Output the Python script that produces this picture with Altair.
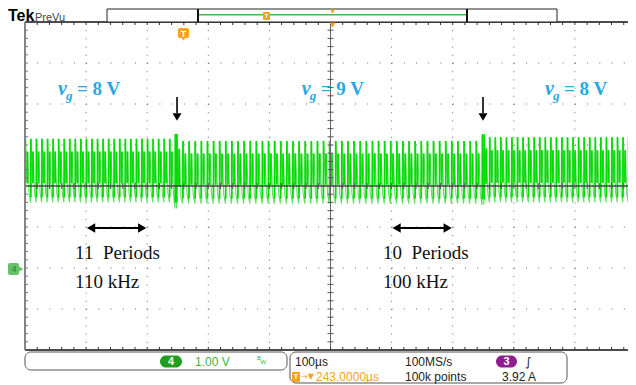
import altair as alt
import numpy as np
import pandas as pd

# ---------------- waveform (time in µs, amplitude in divisions from centre) ----------------
seg_start_us = [0.0, 248.0, 751.0]
seg_end_us = [248.0, 751.0, 1000.0]
seg_freq_khz = [110.0, 100.0, 110.0]
seg_peak_div = [1.15, 1.10, 1.19]
seg_trough_div = [-0.40, -0.43, -0.40]
period_phase = [0.00, 0.10, 0.35, 0.50, 0.72]
period_level = [0.00, 1.00, 0.30, 0.80, 0.15]
bright_phase = [0.05, 0.43]
bright_low_level = [0.08, 0.30]
bright_high_level = [1.00, 0.80]
spike_t_us = [248.0, 751.0]
spike_peak_div = [1.27, 1.26]
spike_trough_div = [-0.55, -0.46]

# ---------------- annotations ----------------
vg_t_us = [54.0, 453.0, 851.0]
vg_values = ["8", "9", "8"]
vg_div = 2.22
marker_t_us = [248.8, 749.6]
span_t0_us = [100.0, 600.0]
span_t1_us = [200.0, 700.0]
span_text_t_us = [82.0, 586.0]
span_periods = ["11", "10"]
span_freqs = ["110 kHz", "100 kHz"]

# ---------------- status texts ----------------
ch4_scale = "1.00 V"
timebase = "100µs"
sample_rate = "100MS/s"
record_len = "100k points"
trig_pos = "243.0000µs"
trig_level = "3.92 A"

# ---------------- geometry helpers ----------------
PX_PER_DIV_X = 61.1      # 100 µs per division
W = 603                  # visible part of the graticule (page is 636 px wide)
H = 328


def tx(px):
    return px * 100.0 / PX_PER_DIV_X


def dy(py):
    return 4.0 - py * 8.0 / H


xs = alt.Scale(domain=[0, tx(W)], nice=False, zero=False)
ys = alt.Scale(domain=[-4, 4], nice=False, zero=False)


def enc(ch, x2=False, y2=False, **extra):
    e = dict(x=alt.X("x", type="quantitative", scale=xs, axis=None),
             y=alt.Y("y", type="quantitative", scale=ys, axis=None))
    if x2:
        e["x2"] = alt.X2("x2")
    if y2:
        e["y2"] = alt.Y2("y2")
    e.update(extra)
    return ch.encode(**e)


def rules(rows, **kw):
    df = pd.DataFrame(rows, columns=["x", "x2", "y", "y2"])
    return enc(alt.Chart(df).mark_rule(**kw), x2=True, y2=True)


def rects(rows, **kw):
    df = pd.DataFrame(rows, columns=["x", "x2", "y", "y2"])
    return enc(alt.Chart(df).mark_rect(**kw), x2=True, y2=True)


def texts(rows, **kw):
    df = pd.DataFrame(rows, columns=["x", "y", "text"])
    return enc(alt.Chart(df).mark_text(**kw), text=alt.Text("text:N"))


def points(rows, **kw):
    df = pd.DataFrame(rows, columns=["x", "y"])
    return enc(alt.Chart(df).mark_point(filled=True, opacity=1, strokeWidth=0, **kw))


def prect(x0, x1, y0, y1):
    return (tx(x0), tx(x1), dy(y0), dy(y1))


# ---------------- waveform table ----------------
wave_rows = []
bright_rows = []
for s, e, f, pk, tr in zip(seg_start_us, seg_end_us, seg_freq_khz, seg_peak_div, seg_trough_div):
    period = 1000.0 / f
    t0 = s
    while t0 < e - 1e-6:
        p, q = pk, tr
        for st, sp, sq in zip(spike_t_us, spike_peak_div, spike_trough_div):
            if t0 <= st < t0 + period:
                p, q = sp, sq
        for ph, lv in zip(period_phase, period_level):
            t = t0 + ph * period
            if t <= e:
                wave_rows.append((t, q + lv * (p - q)))
        for bp, lo, hi in zip(bright_phase, bright_low_level, bright_high_level):
            tb = t0 + bp * period
            bright_rows.append((tb, tb, q + lo * (p - q), q + hi * (p - q)))
        t0 += period
wave_rows.append((1000.0, seg_trough_div[-1]))
wave_df = pd.DataFrame(wave_rows, columns=["x", "y"])

layers = []

# grid (dotted)
layers.append(rules([(t, t, 4, -4) for t in range(100, 1000, 100) if t != 500],
                    color="#6a6a6a", strokeWidth=1, strokeDash=[1, 7.2]))
layers.append(rules([(0, 1000, d, d) for d in range(-3, 4) if d != 0],
                    color="#6a6a6a", strokeWidth=1, strokeDash=[1, 11.22]))

# waveform
layers.append(enc(alt.Chart(wave_df).mark_line(color="#5fe05f", strokeWidth=1.1)))
layers.append(rules(bright_rows, color="#00dc00", strokeWidth=1.7))

# centre crosshair with ticks
layers.append(rules([(500, 500, 4, -4)], color="#666666", strokeWidth=1))
layers.append(rules([(0, 1000, 0, 0)], color="#444444", strokeWidth=1.5))
layers.append(rules([(500 - tx(3), 500 + tx(3), d, d) for d in np.arange(-3.8, 3.81, 0.2)],
                    color="#555555", strokeWidth=1))
layers.append(rules([(t, t, dy(H / 2 - 3), dy(H / 2 + 3)) for t in range(20, 1000, 20)],
                    color="#555555", strokeWidth=1))

# borders with ticks
layers.append(rules([(0, 1000, 4, 4), (0, 1000, -4, -4)], color="#111111", strokeWidth=1.5))
layers.append(rules([(0, 0, 4, -4)], color="#858585", strokeWidth=2))
layers.append(rules([(t, t, 4, dy(3)) for t in range(20, 1000, 20)]
                    + [(t, t, -4, dy(H - 3)) for t in range(20, 1000, 20)],
                    color="#333333", strokeWidth=1))
layers.append(rules([(0, tx(3), d, d) for d in np.arange(-3.8, 3.81, 0.2)],
                    color="#777777", strokeWidth=1))

# v_g labels
blue = "#27a8e6"
layers.append(texts([(t, vg_div, "v") for t in vg_t_us], font="Liberation Serif", fontSize=20,
                    fontWeight="bold", fontStyle="italic", color=blue, align="left", baseline="alphabetic"))
layers.append(texts([(t, vg_div, "g") for t in vg_t_us], font="Liberation Serif", fontSize=13,
                    fontWeight="bold", fontStyle="italic", color=blue, align="left", baseline="alphabetic",
                    dx=8, dy=5))
layers.append(texts([(t, vg_div, "= " + v + " V") for t, v in zip(vg_t_us, vg_values)],
                    font="Liberation Serif", fontSize=19, fontWeight="bold", color=blue,
                    align="left", baseline="alphabetic", dx=19))

# down arrows
layers.append(rules([(t, t, dy(75), dy(91)) for t in marker_t_us], color="#000000", strokeWidth=1.6))
layers.append(points([(t, dy(95)) for t in marker_t_us], shape="triangle-down", size=80, color="#000000"))

# double arrows
arr_d = dy(206)
layers.append(rules([(a + tx(4), b - tx(4), arr_d, arr_d) for a, b in zip(span_t0_us, span_t1_us)],
                    color="#000000", strokeWidth=2))
layers.append(points([(a + tx(5), arr_d) for a in span_t0_us], shape="triangle-left", size=90, color="#000000"))
layers.append(points([(b - tx(5), arr_d) for b in span_t1_us], shape="triangle-right", size=90, color="#000000"))

layers.append(texts([(t, dy(237), p + "\u00a0\u00a0Periods") for t, p in zip(span_text_t_us, span_periods)],
                    font="Liberation Serif", fontSize=19, color="#111111", align="left", baseline="alphabetic"))
layers.append(texts([(t, dy(266), fq) for t, fq in zip(span_text_t_us, span_freqs)],
                    font="Liberation Serif", fontSize=19, color="#111111", align="left", baseline="alphabetic"))

# ---------------- scope chrome ----------------
orange = "#f7a21b"
# trigger T marker in the graticule
layers.append(rects([prect(153, 164, 6, 16)], color=orange, cornerRadius=2))
layers.append(points([(tx(158.5), dy(16.5))], shape="triangle-down", size=30, color=orange))
layers.append(texts([(tx(158.5), dy(11.5), "T")], font="Liberation Sans", fontSize=9, fontWeight="bold",
                    color="white", align="center", baseline="middle"))
# centre (expansion point) triangle
layers.append(points([(tx(307.5), dy(2.5))], shape="triangle-down", size=55, color=orange))

# record view bar
layers.append(rects([prect(82, 532, -13, 0)], fill="white", stroke="#222222", strokeWidth=1))
layers.append(rules([(tx(174), tx(442), dy(-7.3), dy(-7.3))], color="#4db34d", strokeWidth=1.5))
layers.append(rules([(tx(173), tx(173), dy(-13), dy(0)), (tx(442), tx(442), dy(-13), dy(0))],
                    color="#111111", strokeWidth=2))
layers.append(rects([prect(238, 245, -10, -2)], color=orange, cornerRadius=1))
layers.append(texts([(tx(241.5), dy(-6), "T")], font="Liberation Sans", fontSize=6, fontWeight="bold",
                    color="white", align="center", baseline="middle"))
layers.append(points([(tx(307.5), dy(-10.5))], shape="triangle-down", size=25, color=orange))

# header
layers.append(texts([(tx(-17), dy(-1), "Tek")], font="Liberation Sans", fontSize=16, fontWeight="bold",
                    color="#000000", align="left", baseline="alphabetic"))
layers.append(texts([(tx(10), dy(-1.5), "PreVu")], font="Liberation Sans", fontSize=11,
                    color="#444444", align="left", baseline="alphabetic"))

# channel 4 ground marker
green_m = "#66c266"
layers.append(rects([prect(-17, -6, 241, 253)], color=green_m, cornerRadius=2))
layers.append(points([(tx(-4.5), dy(247))], shape="triangle-right", size=45, color=green_m))
layers.append(texts([(tx(-11), dy(247), "4")], font="Liberation Sans", fontSize=9,
                    color="#2d7d2d", align="center", baseline="middle"))

# status bar boxes
layers.append(rects([prect(0, 262, 330, 348)], fill="white", stroke="#555555", strokeWidth=1, cornerRadius=6))
layers.append(rects([prect(265, 542, 330, 361)], fill="white", stroke="#555555", strokeWidth=1, cornerRadius=6))
layers.append(rects([prect(135, 157, 333.5, 345.5)], color="#1f9e1f", cornerRadius=6))
layers.append(texts([(tx(146), dy(339.5), "4")], font="Liberation Sans", fontSize=11, fontWeight="bold",
                    color="white", align="center", baseline="middle"))
layers.append(texts([(tx(170), dy(339.5), ch4_scale)], font="Liberation Sans", fontSize=12,
                    color="#3cb33c", align="left", baseline="middle"))
layers.append(texts([(tx(232), dy(336), "B")], font="Liberation Sans", fontSize=6,
                    color="#3cb33c", align="left", baseline="middle"))
layers.append(texts([(tx(235.5), dy(340), "W")], font="Liberation Sans", fontSize=6,
                    color="#3cb33c", align="left", baseline="middle"))
layers.append(rects([prect(471, 492, 333.5, 345.5)], color="#8e1e8e", cornerRadius=6))
layers.append(texts([(tx(481.5), dy(339.5), "3")], font="Liberation Sans", fontSize=11, fontWeight="bold",
                    color="white", align="center", baseline="middle"))
layers.append(texts([(tx(503), dy(339.5), "\u222b")], font="DejaVu Sans", fontSize=12,
                    color="#222222", align="center", baseline="middle"))
layers.append(texts([(tx(270), dy(339.5), timebase), (tx(380), dy(339.5), sample_rate),
                     (tx(380), dy(355), record_len), (tx(477), dy(355), trig_level)],
                    font="Liberation Sans", fontSize=12, color="#222222", align="left", baseline="middle"))
layers.append(rects([prect(267, 275, 350, 360)], color=orange, cornerRadius=1))
layers.append(texts([(tx(271), dy(355), "T")], font="Liberation Sans", fontSize=8, fontWeight="bold",
                    color="white", align="center", baseline="middle"))
layers.append(texts([(tx(276), dy(355), "\u2192\u25bc")], font="DejaVu Sans", fontSize=8,
                    color=orange, align="left", baseline="middle"))
layers.append(texts([(tx(291), dy(355), trig_pos)], font="Liberation Sans", fontSize=12,
                    color=orange, align="left", baseline="middle"))

chart = alt.layer(*layers).properties(
    width=W, height=H,
    autosize=alt.AutoSizeParams(type="none"),
    padding={"left": 17, "top": 14, "right": 0, "bottom": 35},
    background="white",
).configure_view(stroke=None)

chart.save("out.html", embed_options={"renderer": "svg", "actions": False})
